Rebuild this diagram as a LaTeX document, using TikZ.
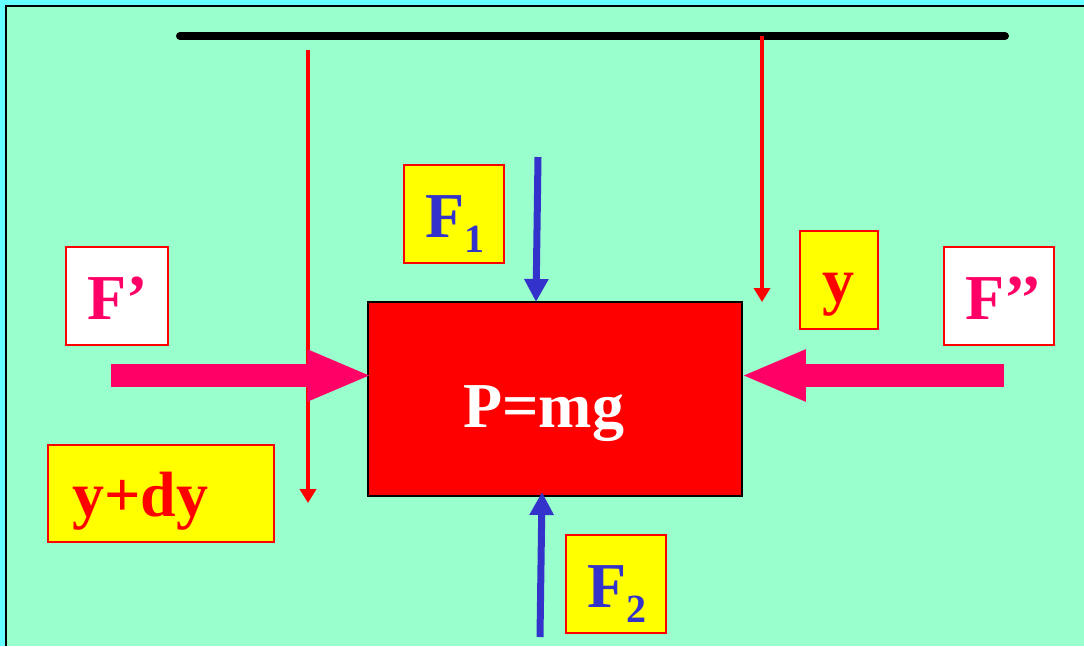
\documentclass[tikz,border=0pt]{standalone}
\usepackage{fontspec}
\setmainfont{Liberation Serif}
\usetikzlibrary{arrows.meta}
\definecolor{bgcyan}{HTML}{66FFFF}
\definecolor{bggreen}{HTML}{99FFCC}
\definecolor{fmag}{HTML}{FF0066}
\definecolor{fblue}{HTML}{3333CC}
\definecolor{fred}{HTML}{FF0000}
\definecolor{fyellow}{HTML}{FFFF00}
\tikzset{
  x=1pt, y=-1pt,
  labelbox/.style={draw=fred, line width=1.5pt, inner sep=0pt, minimum width=#1},
  big/.style={font=\fontsize{64}{64}\selectfont\bfseries, inner sep=0pt, anchor=base west},
  thinarrow/.style={draw=fred, line width=4pt, -{Triangle[length=14pt,width=16pt]}},
  blockarrow/.style={draw=fmag, line width=23pt, -{Triangle[length=65pt,width=47pt]}},
  bluearrow/.style={draw=fblue, line width=7pt, -{Triangle[length=23pt,width=23pt]}},
}
\newcommand{\subsc}[1]{\raisebox{-15pt}{\fontsize{40}{40}\selectfont #1}}
\begin{document}
\begin{tikzpicture}
\useasboundingbox (0,0) rectangle (1084,646);
% background
\fill[bgcyan] (0,0) rectangle (1084,646);
\fill[bggreen] (6,6) rectangle (1084,646);
\draw[black, line width=1.5pt] (6,646) -- (6,6) -- (1084,6);
% ceiling bar
\coordinate (barL) at (180,36);
\coordinate (barR) at (1005,36);
\draw[black, line width=8pt, line cap=round] (barL) -- (barR);
% thin red arrows
\coordinate (ylS) at (308,50);
\coordinate (ylE) at (308,503);
\coordinate (yrS) at (762,36);
\coordinate (yrE) at (762,302);
\draw[thinarrow] (ylS) -- (ylE);
\draw[thinarrow] (yrS) -- (yrE);
% body
\node[draw=black, line width=1.5pt, fill=fred, inner sep=0pt, minimum width=374pt, minimum height=194pt] (body) at (555,399) {};
\node[big, text=white] (pmg) at (463,427) {P=mg};
% label boxes
\node[labelbox=102pt, fill=white, minimum height=98pt] (fpbox) at (117,296) {};
\node[big, text=fmag] (fp) at (87,319) {F’};
\node[labelbox=110pt, fill=white, minimum height=98pt] (fppbox) at (999,296) {};
\node[big, text=fmag] (fpp) at (965,319) {F’’};
\node[labelbox=226pt, fill=fyellow, minimum height=97pt] (ydybox) at (161,493.5) {};
\node[big, text=fred] (ydy) at (72,516) {y+dy};
\node[labelbox=78pt, fill=fyellow, minimum height=98pt] (ybox) at (839,280) {};
\node[big, text=fred] (y) at (822,302) {y};
\node[labelbox=100pt, fill=fyellow, minimum height=98pt] (f1box) at (454,214) {};
\node[big, text=fblue] (f1) at (425,237) {F\subsc{1}};
\node[labelbox=100pt, fill=fyellow, minimum height=98pt] (f2box) at (616,584) {};
\node[big, text=fblue] (f2) at (587,607) {F\subsc{2}};
% block arrows
\coordinate (fpS) at (111,375.5);
\coordinate (fppS) at (1004,375.5);
\draw[blockarrow] (fpS) -- ([xshift=5pt]fpS -| body.west);
\draw[blockarrow] (fppS) -- ([xshift=-2pt]fppS -| body.east);
% blue arrows
\coordinate (f1S) at (538,157);
\coordinate (f1E) at (536,302);
\coordinate (f2S) at (540,637);
\coordinate (f2E) at (542,492);
\draw[bluearrow] (f1S) -- (f1E);
\draw[bluearrow] (f2S) -- (f2E);
\end{tikzpicture}
\end{document}
